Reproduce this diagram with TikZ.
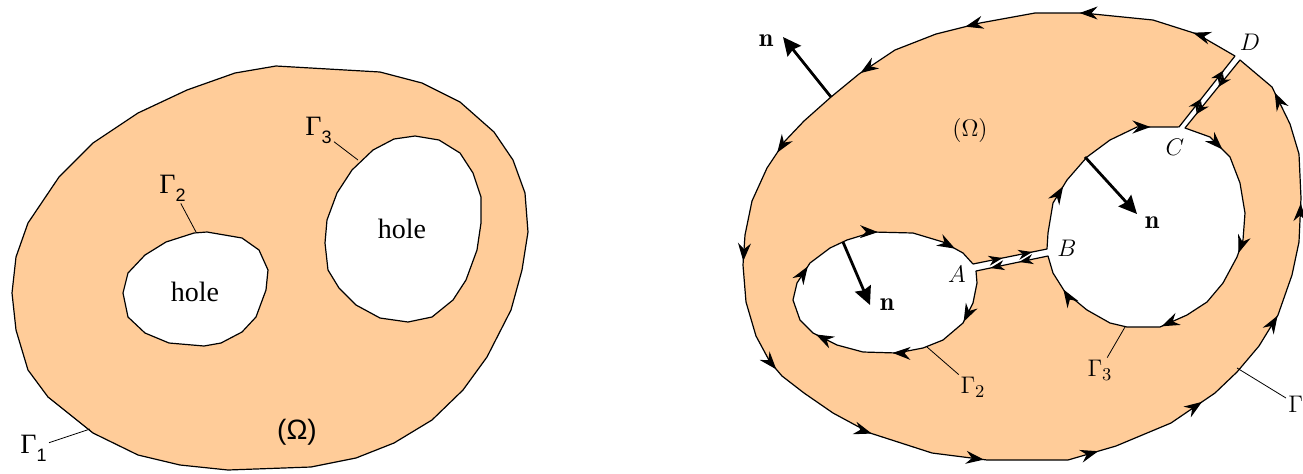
\documentclass[tikz,border=0pt]{standalone}
\usepackage{fontspec}
\newfontfamily\timesfont{Liberation Serif}
\newfontfamily\arialfont{Liberation Sans}
\usetikzlibrary{arrows.meta,decorations.markings,calc}
\definecolor{regionfill}{RGB}{255,204,153}
\newcommand\gsub[1]{{\timesfont Γ}\raisebox{-4pt}{\arialfont\fontsize{9}{10}\selectfont #1}}
\tikzset{
  region/.style={fill=regionfill, draw=black, line width=0.6pt, line join=round},
  holeshape/.style={fill=white, draw=black, line width=0.6pt, line join=round},
  flow/.style 2 args={postaction={decorate}, decoration={markings, mark=between positions #1 and 1 step #2 with {\arrow{Stealth[length=9pt,width=6.5pt,inset=3pt]}}}},
  cutflow/.style={line width=0.6pt, line cap=round, postaction={decorate}, decoration={markings,
    mark=at position 0.4 with {\arrow{Stealth[length=7pt,width=5pt,inset=2.2pt]}},
    mark=at position 0.8 with {\arrow{Stealth[length=7pt,width=5pt,inset=2.2pt]}}}},
  normalvec/.style={line width=1.4pt, -{Stealth[length=9pt,width=8.5pt,inset=1pt]}},
  leader/.style={line width=0.4pt},
  lbl/.style={font=\fontsize{13}{15}\selectfont, inner sep=1pt},
  oldlbl/.style={font=\timesfont\fontsize{14}{16}\selectfont, inner sep=1pt},
}
\begin{document}
\begin{tikzpicture}[x=0.5pt, y=-0.5pt]
  \useasboundingbox (0,0) rectangle (1303,473);

  \draw[region] (276,66) -- (380,72) -- (422,83) -- (460,102) -- (494,132) -- (513,160) -- (525,193) -- (528,232) -- (522,270) -- (511,310) -- (487,357) -- (463,390) -- (432,420) -- (394,443) -- (356,458) -- (311,467) -- (228,470) -- (180,465) -- (138,455) -- (93,433) -- (48,397) -- (28,370) -- (16,330) -- (12,293) -- (16,257) -- (28,223) -- (59,177) -- (93,143) -- (138,113) -- (187,90) -- (235,73) -- cycle;
  \draw[holeshape] (207,232) -- (242,238) -- (259,250) -- (268,270) -- (266,290) -- (256,317) -- (242,332) -- (221,343) -- (204,346) -- (169,343) -- (145,333) -- (128,317) -- (123,293) -- (128,273) -- (145,255) -- (166,242) -- (194,233) -- cycle;
  \draw[holeshape] (415,136) -- (439,140) -- (460,153) -- (473,173) -- (481,197) -- (481,223) -- (477,250) -- (466,280) -- (453,300) -- (432,317) -- (408,322) -- (380,318) -- (356,305) -- (339,288) -- (328,270) -- (325,243) -- (327,220) -- (337,193) -- (352,170) -- (373,150) -- (394,139) -- cycle;
  \node[oldlbl] (holeA) at (195,292) {hole};
  \node[oldlbl] (holeB) at (402,229) {hole};
  \node[font=\arialfont\fontsize{14}{16}\selectfont] (omegaL) at (297,432) {(Ω)};
  \node[oldlbl, anchor=base west] (gamL3) at (303,135) {\gsub{3}};
  \node[oldlbl, anchor=base west] (gamL2) at (157,193) {\gsub{2}};
  \node[oldlbl, anchor=base west] (gamL1) at (18,453) {\gsub{1}};
  \coordinate (gamL3p) at (358,160);
  \coordinate (gamL2p) at (196,232);
  \coordinate (gamL1p) at (90,429);
  \draw[leader] (gamL3) -- (gamL3p);
  \draw[leader] (gamL2) -- (gamL2p);
  \draw[leader] (gamL1) -- (gamL1p);

  \foreach \p/\x/\y in {A1/973/264, A2/976/271, B1/1047/249, B2/1048/256, C1/1179/127, C2/1185/128, D1/1235/56, D2/1240/60}
    \coordinate (\p) at (\x,\y);
  \draw[region, flow={0.03}{0.072}] (D1) -- (1197,34) -- (1153,20) -- (1083,13) -- (1035,13) -- (980,23) -- (936,34) -- (895,50) -- (859,74) -- (831,97) -- (804,121) -- (785,141) -- (767,168) -- (752,201) -- (745,235) -- (743,265) -- (746,302) -- (756,336) -- (770,362) -- (782,376) -- (804,393) -- (833,413) -- (870,433) -- (932,453) -- (987,460) -- (1068,460) -- (1116,446) -- (1171,423) -- (1215,393) -- (1237,372) -- (1259,346) -- (1278,315) -- (1292,275) -- (1299,242) -- (1301,198) -- (1299,154) -- (1290,124) -- (1272,87) -- (D2) -- cycle;
  \draw[holeshape, flow={0.11}{0.165}] (A2) -- (977,283) -- (973,303) -- (963,323) -- (943,340) -- (923,348) -- (897,353) -- (863,352) -- (837,345) -- (813,333) -- (800,320) -- (793,300) -- (797,283) -- (810,263) -- (830,248) -- (847,240) -- (873,232) -- (913,233) -- (943,242) -- (963,253) -- (A1) -- cycle;
  \draw[holeshape, flow={0.07}{0.175}] (C2) -- (1210,137) -- (1230,157) -- (1240,183) -- (1245,213) -- (1243,240) -- (1237,257) -- (1223,283) -- (1207,302) -- (1187,315) -- (1160,327) -- (1127,327) -- (1110,323) -- (1087,310) -- (1065,292) -- (1053,273) -- (B2) -- (B1) -- (1048,233) -- (1053,203) -- (1067,180) -- (1087,157) -- (1110,140) -- (1137,127) -- (C1) -- cycle;
  \fill[white] ($(A1)!-0.15!(B1)$) -- ($(B1)!-0.15!(A1)$) -- ($(B2)!-0.15!(A2)$) -- ($(A2)!-0.15!(B2)$) -- cycle;
  \fill[white] ($(C1)!-0.15!(D1)$) -- ($(D1)!-0.15!(C1)$) -- ($(D2)!-0.15!(C2)$) -- ($(C2)!-0.15!(D2)$) -- cycle;
  \draw[cutflow] (A1) -- (B1);
  \draw[cutflow] (B2) -- (A2);
  \draw[cutflow] (C1) -- (D1);
  \draw[cutflow] (D2) -- (C2);

  \coordinate (nOutB) at (831,97);
  \coordinate (nOutT) at (783,37);
  \coordinate (nTwoB) at (843,242);
  \coordinate (nTwoT) at (870,305);
  \coordinate (nThrB) at (1085,157);
  \coordinate (nThrT) at (1137,214);
  \draw[normalvec] (nOutB) -- (nOutT);
  \draw[normalvec] (nTwoB) -- (nTwoT);
  \draw[normalvec] (nThrB) -- (nThrT);
  \node[lbl] (nOut) at (766,41) {$\mathbf{n}$};
  \node[lbl] (nTwo) at (887,305) {$\mathbf{n}$};
  \node[lbl] (nThr) at (1152,223) {$\mathbf{n}$};

  \node[lbl] (omegaR) at (970,130) {$(\Omega)$};
  \node[lbl] (ptA) at (957,274) {$A$};
  \node[lbl] (ptB) at (1067,248) {$B$};
  \node[lbl] (ptC) at (1175,147) {$C$};
  \node[lbl] (ptD) at (1250,42) {$D$};

  \node[lbl] (gamR2) at (973,387) {$\Gamma_2$};
  \node[lbl] (gamR3) at (1100,370) {$\Gamma_3$};
  \node[lbl, anchor=west] (gamR) at (1286,404) {$\Gamma$};
  \coordinate (gamR2p) at (927,347);
  \coordinate (gamR3p) at (1125,327);
  \coordinate (gamRp) at (1237,368);
  \draw[leader] (gamR2) -- (gamR2p);
  \draw[leader] (gamR3) -- (gamR3p);
  \draw[leader] (gamR) -- (gamRp);
\end{tikzpicture}
\end{document}
